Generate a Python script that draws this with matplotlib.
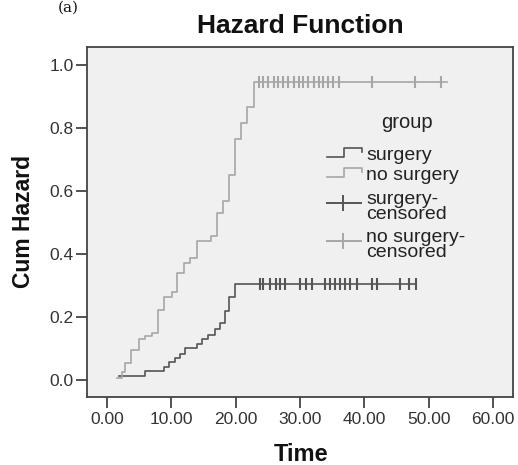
import matplotlib
matplotlib.use("Agg")
import matplotlib.pyplot as plt

# Datos (tiempo, riesgo acumulado)
surgery_t = [1.8, 5.9, 8.9, 9.7, 10.6, 11.4, 12.1, 14.0, 14.8, 15.7, 16.8, 17.5, 18.3, 19.0, 19.9]
surgery_h = [0.012, 0.028, 0.042, 0.057, 0.071, 0.084, 0.100, 0.114, 0.129, 0.143, 0.161, 0.180, 0.220, 0.262, 0.305]
surgery_end = 48.0
surgery_cens = [23.8, 24.2, 25.4, 26.2, 26.9, 27.7, 30.0, 30.9, 31.8, 33.9, 34.6, 35.5,
                36.2, 37.0, 37.8, 38.8, 41.2, 42.0, 45.5, 47.0, 48.0]

nosurg_t = [1.5, 2.3, 2.8, 3.8, 5.0, 5.9, 7.0, 8.0, 8.9, 10.1, 10.9, 11.9, 12.9, 14.0,
            16.1, 17.1, 18.0, 18.9, 19.9, 20.9, 21.8, 22.9]
nosurg_h = [0.006, 0.026, 0.053, 0.095, 0.129, 0.140, 0.150, 0.222, 0.264, 0.280, 0.340,
            0.370, 0.387, 0.441, 0.457, 0.531, 0.569, 0.651, 0.764, 0.815, 0.866, 0.947]
nosurg_end = 52.8
nosurg_cens = [23.7, 24.3, 25.1, 25.9, 26.6, 27.4, 28.2, 29.0, 29.8, 30.5, 31.3, 32.1,
               32.9, 33.6, 34.4, 35.2, 36.0, 41.2, 47.9, 51.9]

x_ticks = [0, 10, 20, 30, 40, 50, 60]
y_ticks = [0.0, 0.2, 0.4, 0.6, 0.8, 1.0]

DARK = "#555555"
LIGHT = "#a6a6a6"
FRAME = "#444444"

plt.rcParams["font.family"] = ["Liberation Sans", "DejaVu Sans"]

W, H = 518, 465
fig = plt.figure(figsize=(W / 100, H / 100), dpi=100)
# caja del gráfico en píxeles: x 87..513, y 47..397
ax = fig.add_axes([87 / W, 1 - 397 / H, 426 / W, 350 / H])
ax.set_facecolor("#f0f0f0")

ax.step(surgery_t + [surgery_end], surgery_h + [surgery_h[-1]], where="post",
        color=DARK, lw=1.2)
ax.step(nosurg_t + [nosurg_end], nosurg_h + [nosurg_h[-1]], where="post",
        color=LIGHT, lw=1.2)
ax.plot(surgery_cens, [surgery_h[-1]] * len(surgery_cens), ls="none", marker="|",
        ms=8, mew=1.5, color=DARK)
ax.plot(nosurg_cens, [nosurg_h[-1]] * len(nosurg_cens), ls="none", marker="|",
        ms=8, mew=1.5, color=LIGHT)

ax.set_xlim(-3.1, 63.1)
ax.set_ylim(-0.054, 1.057)
ax.set_xticks(x_ticks)
ax.set_xticklabels([f"{v:.2f}" for v in x_ticks])
ax.set_yticks(y_ticks)
ax.set_yticklabels([f"{v:.1f}" for v in y_ticks])
ax.tick_params(axis="both", direction="out", length=8, width=1.3, color=FRAME,
               labelsize=12.5, labelcolor="#333333")
ax.tick_params(axis="x", pad=3)
ax.tick_params(axis="y", pad=1.5)
for s in ax.spines.values():
    s.set_color(FRAME)
    s.set_linewidth(1.3)

# leyenda dibujada a mano (estilo SPSS)
def px(x, y):
    return (x - 87) / 426, (397 - y) / 350

tr = ax.transAxes
gx, gy = px(407, 122)
ax.text(gx, gy, "group", transform=tr, ha="center", va="center", fontsize=14.5, color="#222222")

entries = [("surgery", DARK, 155, "step"), ("no surgery", LIGHT, 175, "step"),
           ("surgery-\ncensored", DARK, 207, "cens"), ("no surgery-\ncensored", LIGHT, 245, "cens")]
for label, col, yc, kind in entries:
    tx, ty = px(366, yc)
    ax.text(tx, ty, label, transform=tr, ha="left", va="center", fontsize=14,
            linespacing=0.78, color="#222222")
    if kind == "step":
        x0, _ = px(327, 0)
        x1, _ = px(344, 0)
        x2, _ = px(362, 0)
        _, ylo = px(0, yc + 2)
        _, yhi = px(0, yc - 7)
        _, ymid = px(0, yc - 3)
        ax.plot([x0, x1, x1, x2, x2], [ylo, ylo, yhi, yhi, ymid], transform=tr,
                color=col, lw=1.2, clip_on=False)
    else:
        x0, ym = px(327, yc - 4)
        x2, _ = px(361, 0)
        xc, _ = px(343, 0)
        ax.plot([x0, x2], [ym, ym], transform=tr, color=col, lw=1.4, clip_on=False)
        ax.plot([xc], [ym], transform=tr, marker="|", ms=11, mew=1.4, color=col,
                clip_on=False)

fig.text(300 / W, 1 - 26 / H, "Hazard Function", ha="center", va="center",
         fontsize=19, fontweight="bold", color="#111111")
fig.text(24 / W, 1 - 222 / H, "Cum Hazard", ha="center", va="center", rotation=90,
         fontsize=16.5, fontweight="bold", color="#111111")
fig.text(301 / W, 1 - 454 / H, "Time", ha="center", va="center",
         fontsize=17, fontweight="bold", color="#111111")
fig.text(68 / W, 1 - 1 / H, "(a)", ha="center", va="top", fontsize=11,
         family="DejaVu Serif", color="#111111")

fig.savefig("out.png", dpi=100)
